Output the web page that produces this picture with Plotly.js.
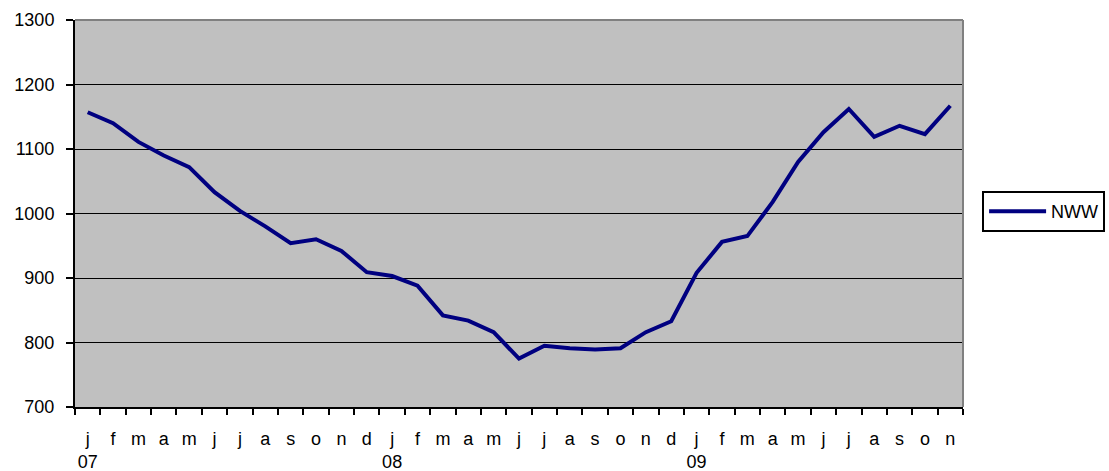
<!DOCTYPE html>
<html>
<head>
<meta charset="utf-8">
<script src="https://cdn.plot.ly/plotly-3.0.1.min.js"></script>
<style>html,body{margin:0;padding:0;background:#fff;}#chart{width:1109px;height:471px;}</style>
</head>
<body>
<div id="chart"></div>
<script>
var categories = ["2007-01","2007-02","2007-03","2007-04","2007-05","2007-06","2007-07","2007-08","2007-09","2007-10","2007-11","2007-12",
                  "2008-01","2008-02","2008-03","2008-04","2008-05","2008-06","2008-07","2008-08","2008-09","2008-10","2008-11","2008-12",
                  "2009-01","2009-02","2009-03","2009-04","2009-05","2009-06","2009-07","2009-08","2009-09","2009-10","2009-11"];
var monthLabels = ["j","f","m","a","m","j","j","a","s","o","n","d",
                   "j","f","m","a","m","j","j","a","s","o","n","d",
                   "j","f","m","a","m","j","j","a","s","o","n"];
var yearLabels = ["07","","","","","","","","","","","",
                  "08","","","","","","","","","","","",
                  "09","","","","","","","","","",""];
var nww = [1157,1140,1111,1090,1072,1033,1004,980,954,960,942,909,
           903,888,842,834,816,775,795,791,789,791,816,833,
           908,956,965,1018,1080,1126,1162,1119,1136,1123,1167];
var yTicks = [700,800,900,1000,1100,1200,1300];

var tickText = monthLabels.map(function(m,i){ return yearLabels[i] ? m + "<br>" + yearLabels[i] : m; });

var font = {family: "'Liberation Sans', Arial, sans-serif", size: 18, color: "#000"};

var data = [{
  type: "scatter", mode: "lines", name: "NWW",
  x: categories, y: nww,
  line: {color: "#000080", width: 4}
}];

var layout = {
  width: 1109, height: 471,
  margin: {l: 75, r: 146, t: 20, b: 64, pad: 0, autoexpand: false},
  paper_bgcolor: "#ffffff",
  plot_bgcolor: "#c0c0c0",
  font: font,
  showlegend: true,
  legend: {
    x: 1.0215, y: 0.505, xanchor: "left", yanchor: "middle",
    bgcolor: "#ffffff", bordercolor: "#000000", borderwidth: 2,
    font: font, itemwidth: 57, tracegroupgap: 0
  },
  xaxis: {
    type: "category",
    range: [-0.5, categories.length - 0.5],
    tickmode: "array", tickvals: categories, ticktext: tickText,
    tickson: "boundaries", tickangle: 0,
    ticks: "outside", ticklen: 6, tickwidth: 2, tickcolor: "#000",
    showline: true, linecolor: "#000", linewidth: 2,
    showgrid: false, zeroline: false,
    ticklabelstandoff: 14, automargin: false,
    tickfont: font, fixedrange: true
  },
  yaxis: {
    range: [700, 1300],
    tickmode: "array", tickvals: yTicks,
    ticks: "outside", ticklen: 7, tickwidth: 2, tickcolor: "#000",
    showline: true, linecolor: "#000", linewidth: 2,
    showgrid: true, gridcolor: "#000000", gridwidth: 1,
    zeroline: false, automargin: false,
    ticklabelstandoff: 8,
    tickfont: font, fixedrange: true
  },
  shapes: [
    {type: "line", xref: "paper", yref: "paper", x0: 1, x1: 1, y0: 0, y1: 1, line: {color: "#808080", width: 2}},
    {type: "line", xref: "paper", yref: "paper", x0: 0, x1: 1, y0: 1, y1: 1, line: {color: "#808080", width: 2}}
  ]
};

Plotly.newPlot("chart", data, layout, {displayModeBar: false, staticPlot: true});
</script>
</body>
</html>
